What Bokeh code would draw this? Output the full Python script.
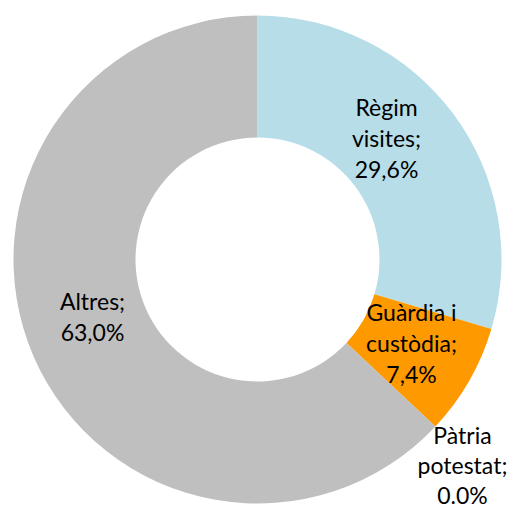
import math
from bokeh.plotting import figure
from bokeh.models import Range1d, ColumnDataSource
from bokeh.core.properties import value
from bokeh.embed import file_html
from bokeh.resources import INLINE

# ---- data ----
categories = ["Règim visites", "Guàrdia i custòdia", "Pàtria potestat", "Altres"]
shares = [29.6, 7.4, 0.0, 63.0]
label_texts = [["Règim", "visites;", "29,6%"],
               ["Guàrdia i", "custòdia;", "7,4%"],
               ["Pàtria", "potestat;", "0.0%"],
               ["Altres;", "63,0%"]]

# ---- styling / layout ----
colors = ["#B7DDE8", "#FF9900", "#A6A6A6", "#BFBFBF"]
label_centers = [(386, 137), (411, 342), (462, 464), (92, 316)]  # page px, block centre
line_gap = [31, 31, 30, 31]
W, H = 510, 506
cx_px, cy_px = 257, 259
r_out, r_in = 244, 122

def to_y(py):
    return H - py

p = figure(width=W, height=H, output_backend="svg", toolbar_location=None,
           x_range=Range1d(0, W), y_range=Range1d(0, H),
           min_border=0, outline_line_color=None)
p.axis.visible = False
p.grid.visible = False
p.background_fill_color = "white"

total = sum(shares)
d = dict(cat=[], start=[], end=[], color=[], share=[])
cum = 0.0
for c, s, col in zip(categories, shares, colors):
    a0 = math.pi / 2 - 2 * math.pi * (cum + s) / total
    a1 = math.pi / 2 - 2 * math.pi * cum / total
    cum += s
    if s <= 0:
        continue  # zero-size slice: nothing to draw
    d["cat"].append(c)
    d["start"].append(a0)
    d["end"].append(a1)
    d["color"].append(col)
    d["share"].append(s)

src = ColumnDataSource(d)
p.annular_wedge(x=cx_px, y=to_y(cy_px), inner_radius=r_in, outer_radius=r_out,
                start_angle="start", end_angle="end", direction="anticlock",
                fill_color="color", line_color=None, source=src)

xs, ys, ts = [], [], []
for (bx, by), lines, gap in zip(label_centers, label_texts, line_gap):
    n = len(lines)
    for i, t in enumerate(lines):
        xs.append(bx)
        ys.append(to_y(by + (i - (n - 1) / 2) * gap))
        ts.append(t)

p.text(x=xs, y=ys, text=ts, text_font=value("Lato"), text_font_size="23px",
       text_align="center", text_baseline="middle", text_color="#000000")

open("out.html", "w").write(file_html(p, INLINE))
